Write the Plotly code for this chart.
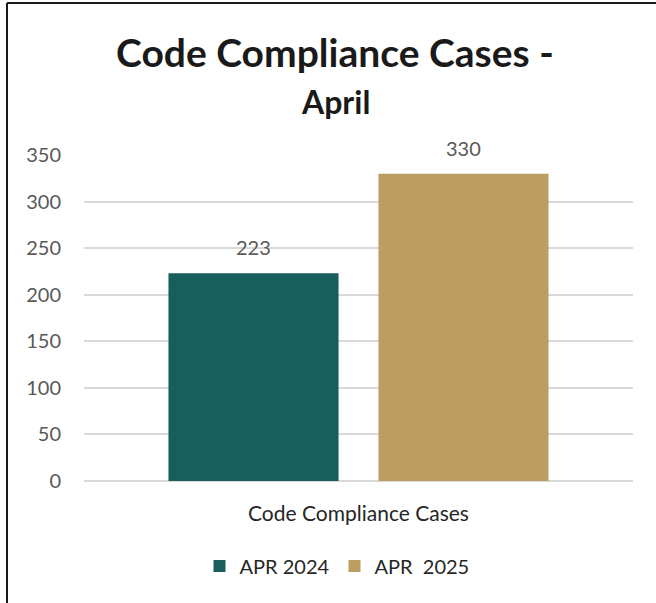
import plotly.graph_objects as go

categories = ["Code Compliance Cases"]
series_names = ["APR 2024", "APR  2025"]
values_2024 = [223]
values_2025 = [330]
colors = ["#175E5C", "#BC9E62"]
y_ticks = [0, 50, 100, 150, 200, 250, 300, 350]

W, H = 656, 603
L, R, T, B = 84, 23, 155, 122
pw, ph = W - L - R, H - T - B

def px_x(px):
    return (px - L) / pw

def px_y(py):
    return (H - B - py) / ph

series = [values_2024, values_2025]
offsets = [-105, 105]

fig = go.Figure()
for name, vals, col in zip(series_names, series, colors):
    fig.add_trace(go.Bar(
        x=categories, y=vals, name=name,
        marker=dict(color=col, line=dict(width=0)),
    ))

annotations = []
for vals, dx in zip(series, offsets):
    for c, v in zip(categories, vals):
        annotations.append(dict(
            x=c, y=v, xref="x", yref="y", text=str(v), showarrow=False,
            xshift=dx, yshift=12, xanchor="center", yanchor="bottom",
            font=dict(family="Lato", size=20, color="#595959")))

annotations += [
    dict(text="<b>Code Compliance Cases -</b>", x=px_x(335), y=px_y(52),
         xref="paper", yref="paper", showarrow=False,
         font=dict(family="Lato", size=39, color="#1a1a1a"),
         xanchor="center", yanchor="middle"),
    dict(text="<b>April</b>", x=px_x(335), y=px_y(101),
         xref="paper", yref="paper", showarrow=False,
         font=dict(family="Lato", size=32, color="#1a1a1a"),
         xanchor="center", yanchor="middle"),
]

fig.update_layout(
    width=W, height=H,
    margin=dict(l=L, r=R, t=T, b=B),
    paper_bgcolor="white", plot_bgcolor="white",
    barmode="group", bargap=0.235, bargroupgap=0.19,
    font=dict(family="Lato", color="#595959"),
    showlegend=True,
    legend=dict(orientation="h", x=px_x(337), xanchor="center",
                y=px_y(566), yanchor="middle",
                font=dict(family="Lato", size=20, color="#262626"),
                itemwidth=30, traceorder="normal"),
    xaxis=dict(showline=False, showgrid=False, ticks="",
               tickfont=dict(family="Lato", size=21, color="#262626"),
               ticklabelstandoff=18),
    yaxis=dict(range=[0, 350], tickvals=y_ticks, showgrid=True,
               gridcolor="#d9d9d9", gridwidth=1.5, zeroline=True,
               zerolinecolor="#d9d9d9", zerolinewidth=1.5, showline=False,
               ticks="", tickfont=dict(family="Lato", size=20, color="#595959"),
               ticklabelstandoff=22),
    annotations=annotations,
    shapes=[
        dict(type="line", xref="paper", yref="paper",
             x0=px_x(7), x1=px_x(7), y0=px_y(3), y1=px_y(603),
             line=dict(color="#1a1a1a", width=2)),
        dict(type="line", xref="paper", yref="paper",
             x0=px_x(7), x1=px_x(656), y0=px_y(3), y1=px_y(3),
             line=dict(color="#1a1a1a", width=2)),
    ],
)

fig.write_html("out.html", config={"displayModeBar": False},
               post_script="document.body.style.margin='0';")
